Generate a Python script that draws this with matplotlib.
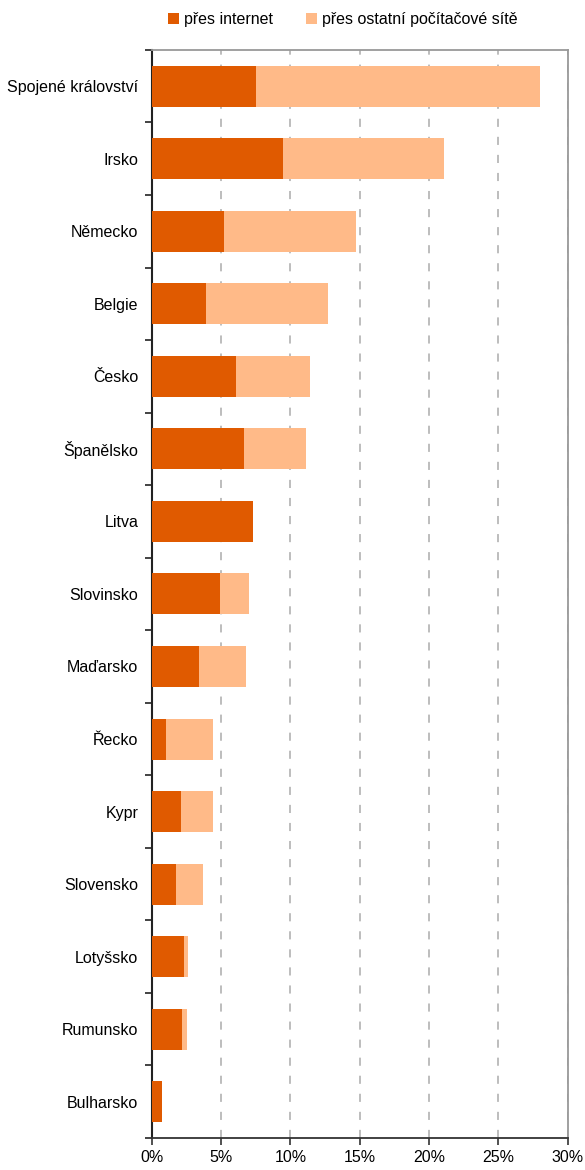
import numpy as np
import matplotlib.pyplot as plt
from matplotlib.ticker import FuncFormatter, MultipleLocator

# data (percent of enterprises)
countries = ['Spojené království', 'Irsko', 'Německo', 'Belgie', 'Česko',
             'Španělsko', 'Litva', 'Slovinsko', 'Maďarsko', 'Řecko',
             'Kypr', 'Slovensko', 'Lotyšsko', 'Rumunsko', 'Bulharsko']
internet = [7.5, 9.5, 5.2, 3.9, 6.05, 6.65, 7.3, 4.95, 3.4, 1.0,
            2.1, 1.75, 2.3, 2.2, 0.75]
total = [28.0, 21.1, 14.7, 12.7, 11.45, 11.1, 7.3, 7.0, 6.8, 4.45,
         4.4, 3.7, 2.65, 2.57, 0.75]
other = [t - i for t, i in zip(total, internet)]

plt.rcParams['font.family'] = ['Liberation Sans', 'DejaVu Sans']
fs = 11.5

fig = plt.figure(figsize=(5.85, 11.7), dpi=100)
ax = fig.add_axes([0.2593, 0.0274, 0.7111, 0.9299])

y = np.arange(len(countries))
h = 0.565
ax.barh(y, internet, height=h, color='#E05A00', label='přes internet', zorder=3)
ax.barh(y, other, left=internet, height=h, color='#FFBA88',
        label='přes ostatní počítačové sítě', zorder=3)

ax.set_xlim(0, 30)
ax.set_ylim(len(countries) - 0.5, -0.5)

ax.xaxis.set_major_locator(MultipleLocator(5))
ax.xaxis.set_major_formatter(FuncFormatter(lambda v, p: '%d%%' % v))
ax.set_yticks(y)
ax.set_yticklabels(countries)
ax.set_yticks(np.arange(-0.5, len(countries), 1), minor=True)
ax.tick_params(axis='y', which='major', length=0, pad=9.5, labelsize=fs)
ax.tick_params(axis='y', which='minor', length=5, width=1.2, color='#222222')
ax.tick_params(axis='x', length=5, width=1.2, color='#333333', labelsize=fs, pad=4)

ax.grid(axis='x', color='#b8b8b8', linestyle=(0, (4.5, 5.5)), linewidth=1.3, zorder=0)

ax.spines['left'].set_color('#222222')
ax.spines['left'].set_linewidth(1.5)
ax.spines['bottom'].set_color('#333333')
ax.spines['bottom'].set_linewidth(1.3)
ax.spines['top'].set_color('#999999')
ax.spines['top'].set_linewidth(1.3)
ax.spines['right'].set_color('#999999')
ax.spines['right'].set_linewidth(1.3)

fig.legend(loc='center', bbox_to_anchor=(0.586, 0.9835), ncol=2, frameon=False,
           fontsize=fs, handlelength=0.7, handleheight=0.7,
           handletextpad=0.3, columnspacing=2.1)

fig.savefig('out.png', dpi=100)
